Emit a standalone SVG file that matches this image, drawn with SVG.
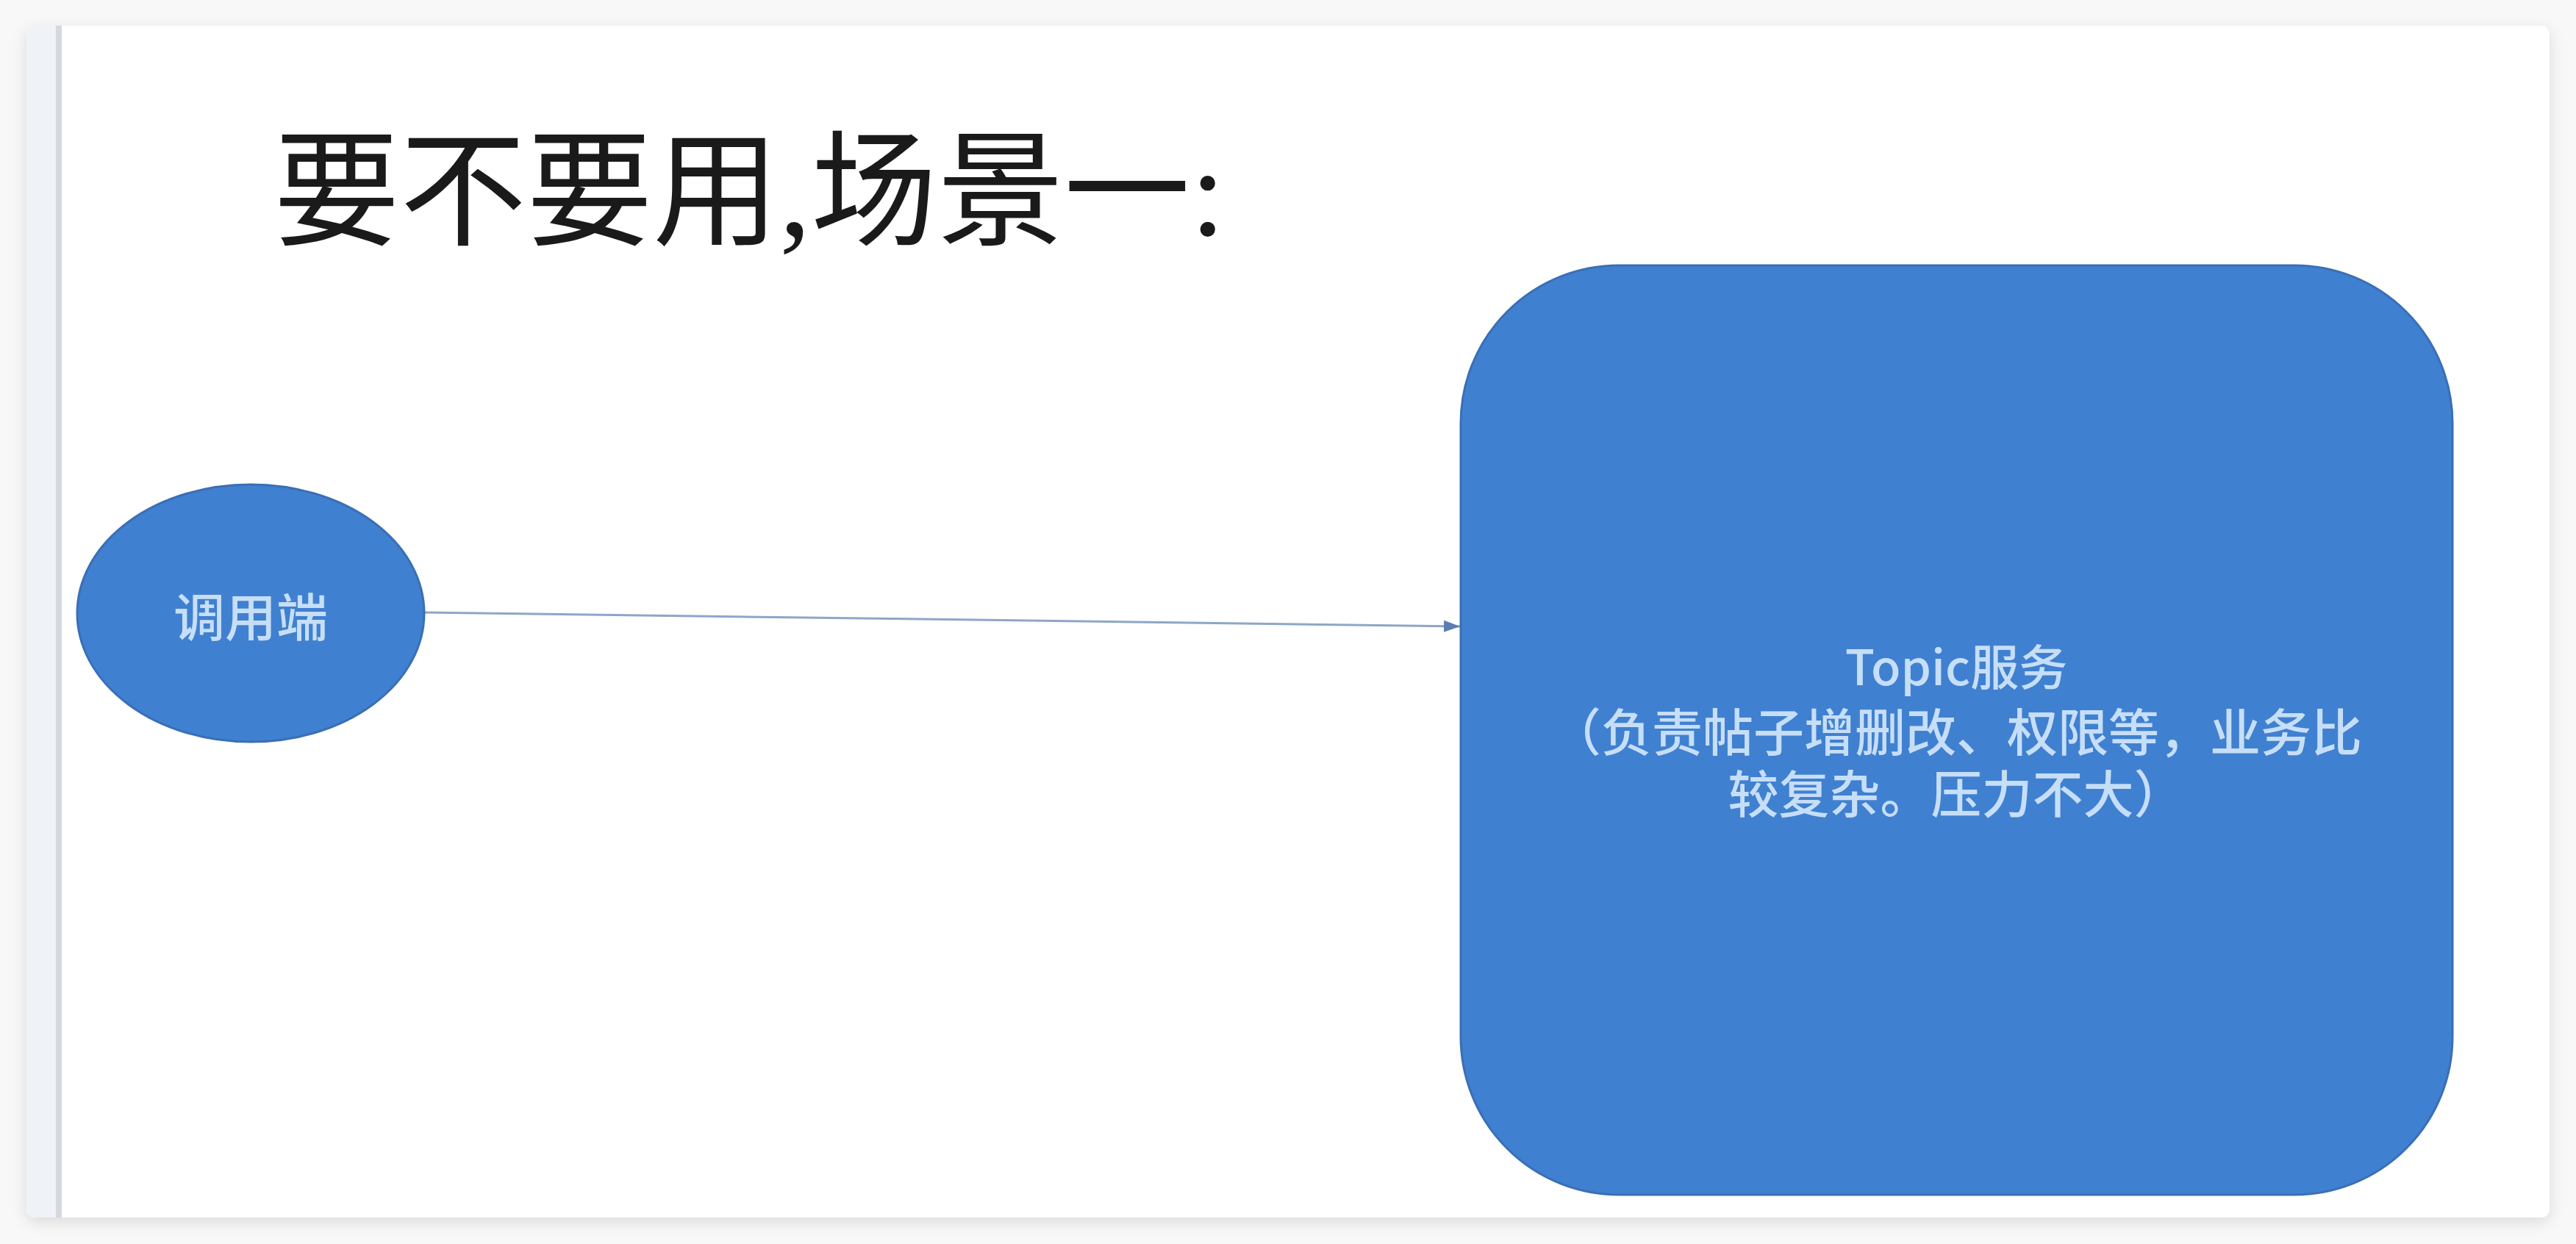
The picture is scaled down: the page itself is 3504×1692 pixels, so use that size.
<svg xmlns="http://www.w3.org/2000/svg" width="3504" height="1692" viewBox="0 0 3504 1692">
  <style>
    .title { font-family: "Liberation Serif", "Noto Sans CJK SC", serif; font-size: 172px; fill: #1a1a1a; }
    .nodeFill { fill: #4080d0; stroke: #3a6fb5; stroke-width: 3; }
    .nodeText { font-family: "Noto Sans CJK SC", "Noto Sans", sans-serif; font-weight: 500; fill: #c6def8; text-anchor: middle; }
    .conn { stroke: #8ea6c8; stroke-width: 3; fill: none; }
  </style>
  <defs>
    <marker id="arrow" markerUnits="userSpaceOnUse" markerWidth="24" markerHeight="16" refX="22" refY="8" orient="auto">
      <path d="M0,0 L22,8 L0,16 z" fill="#5a7eb3"/>
    </marker>
    <filter id="shadow" x="-5%" y="-5%" width="110%" height="110%">
      <feDropShadow dx="0" dy="6" stdDeviation="10" flood-color="#000000" flood-opacity="0.12"/>
    </filter>
  </defs>

  <!-- background and window frame -->
  <rect x="0" y="0" width="3504" height="1692" fill="#f8f8f8"/>
  <rect x="36" y="35" width="3432" height="1621" rx="12" ry="12" fill="#ffffff" filter="url(#shadow)"/>
  <path d="M48,35 L76,35 L76,1656 L48,1656 Q36,1656 36,1644 L36,47 Q36,35 48,35 z" fill="#eff2f6"/>
  <rect x="76" y="35" width="8" height="1621" fill="#d3d9e0"/>

  <!-- title -->
  <text class="title" x="372" y="320">要不要用,场景一:</text>

  <!-- connectors -->
  <g id="connectors">
    <line class="conn" x1="577" y1="833" x2="1986" y2="852" marker-end="url(#arrow)"/>
  </g>

  <!-- node: caller -->
  <g id="node-caller">
    <ellipse class="nodeFill" cx="341" cy="834" rx="236" ry="175"/>
    <text class="nodeText" x="341" y="866" font-size="70">调用端</text>
  </g>

  <!-- node: topic service -->
  <g id="node-topic">
    <rect class="nodeFill" x="1987" y="361" width="1349" height="1264" rx="215" ry="215"/>
    <text class="nodeText" x="2661" y="932" font-size="66">Topic服务</text>
    <text class="nodeText" x="2661" y="1022" font-size="69">（负责帖子增删改、权限等，业务比</text>
    <text class="nodeText" x="2661" y="1106" font-size="69">较复杂。压力不大）</text>
  </g>
</svg>
